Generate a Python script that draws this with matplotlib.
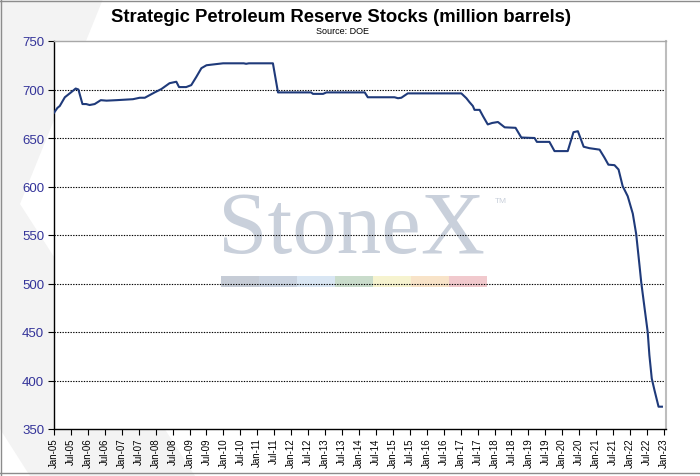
import matplotlib
matplotlib.use("Agg")
import matplotlib.pyplot as plt
from matplotlib.patches import Polygon, Rectangle
from matplotlib.lines import Line2D

# ---- data (decimal year, million barrels) ----
years = [2005.00, 2005.10, 2005.17, 2005.32, 2005.50, 2005.64, 2005.72, 2005.84, 2005.95,
         2006.05, 2006.20, 2006.38, 2006.55, 2006.84, 2007.33, 2007.53, 2007.68, 2007.97,
         2008.17, 2008.41, 2008.61, 2008.69, 2008.90, 2009.05, 2009.20, 2009.35, 2009.50,
         2009.74, 2009.99, 2010.60, 2010.67, 2010.75, 2011.46, 2011.61, 2012.59, 2012.64,
         2012.94, 2013.04, 2014.17, 2014.26, 2015.05, 2015.15, 2015.25, 2015.44, 2017.02,
         2017.17, 2017.26, 2017.36, 2017.41, 2017.56, 2017.66, 2017.80, 2017.93, 2018.10,
         2018.30, 2018.62, 2018.79, 2019.18, 2019.25, 2019.62, 2019.77, 2020.16, 2020.33,
         2020.46, 2020.63, 2020.80, 2021.10, 2021.24, 2021.36, 2021.54, 2021.66, 2021.78,
         2021.93, 2022.08, 2022.18, 2022.28, 2022.33, 2022.43, 2022.52, 2022.57, 2022.64,
         2022.72, 2022.84, 2022.94]
stocks = [676, 681, 683, 692, 697, 701, 700, 685, 685,
          684, 685, 689, 688.5, 689, 690, 691.5, 691.5, 697,
          700.5, 706.5, 708, 702.5, 702.5, 704.5, 713, 722, 725,
          726, 727, 727, 726.5, 727, 727, 697, 697, 695.5,
          695.5, 697, 697, 692, 692, 691, 691.5, 696, 696,
          691, 687, 683, 679, 679, 672.5, 664, 665.5, 666.5,
          661, 660.5, 650.5, 650, 646, 646, 636.5, 636.5, 656,
          657, 641, 639.5, 638, 630, 622.5, 622, 617.5, 600.5,
          590, 572, 551, 518, 501, 474, 450, 426, 402,
          390, 373, 373]

tick_pos = [2005 + 0.5 * i for i in range(37)]
tick_labels = []
for i in range(37):
    yr = 5 + i // 2
    tick_labels.append(("Jan-" if i % 2 == 0 else "Jul-") + f"{yr:02d}")
y_ticks = [350, 400, 450, 500, 550, 600, 650, 700, 750]

W, H = 700, 477
fig = plt.figure(figsize=(7.0, 4.77), dpi=100)
fig.patch.set_facecolor("white")

# faint chevron in background
pts = [(0, 0), (103, 0), (20, 205), (195, 477), (30, 477), (0, 430)]
fig.patches.append(Polygon([(x / W, 1 - y / H) for x, y in pts], closed=True,
                           transform=fig.transFigure, facecolor="#f3f3f3",
                           edgecolor="none", zorder=-5))

ax = fig.add_axes([54 / W, 1 - 430 / H, (666 - 54) / W, (430 - 42) / H])
ax.set_facecolor("white")

ax.plot(years, stocks, color="#1f3a7a", lw=1.5, zorder=3)

ax.set_xlim(2005.0, 2023.06)
ax.set_ylim(350, 750)
ax.set_yticks(y_ticks)
ax.set_yticklabels([str(v) for v in y_ticks], color="#333399", fontsize=9.5,
                   family=["Liberation Sans", "DejaVu Sans"])
ax.set_xticks(tick_pos)
ax.set_xticklabels(tick_labels, rotation=90, fontsize=7,
                   family=["Liberation Sans", "DejaVu Sans"])
ax.tick_params(axis="both", direction="out", length=4, width=0.8, color="black")
ax.tick_params(axis="x", pad=2)
ax.tick_params(axis="y", pad=3)

for v in [400, 450, 500, 550, 600, 650, 700]:
    ax.axhline(v, color="black", lw=0.8, ls=(0, (1.2, 1.2)), zorder=1.5)

ax.spines["left"].set_color("black")
ax.spines["bottom"].set_color("black")
ax.spines["left"].set_linewidth(1.0)
ax.spines["bottom"].set_linewidth(1.0)
ax.spines["top"].set_color("#a8a8a8")
ax.spines["right"].set_color("#bdbdbd")
ax.spines["top"].set_linewidth(1.0)
ax.spines["right"].set_linewidth(1.5)

# watermark
ax.text(351 / W, 1 - 253 / H, "StoneX", transform=fig.transFigure, ha="center",
        va="baseline", fontsize=64, color="#c9d0db",
        family=["Liberation Serif", "DejaVu Serif"], zorder=0.5)
ax.text(495 / W, 1 - 203 / H, "TM", transform=fig.transFigure, ha="left",
        va="baseline", fontsize=6, color="#c9d0db",
        family=["Liberation Sans", "DejaVu Sans"], zorder=0.5)
strip_cols = ["#c6ccd6", "#cad3e0", "#d9e6f3", "#c9dccb", "#f6f3cf", "#f8e3c8", "#f1c9cd"]
x0, seg = 221, 38
for i, c in enumerate(strip_cols):
    ax.add_patch(Rectangle(((x0 + i * seg) / W, 1 - 288 / H), seg / W, 11 / H,
                           transform=fig.transFigure, facecolor=c, edgecolor="none",
                           zorder=0.4, clip_on=False))

fig.text(341 / W, 1 - 17 / H, "Strategic Petroleum Reserve Stocks (million barrels)",
         ha="center", va="center", fontsize=13.3, fontweight="bold",
         family=["Liberation Sans", "DejaVu Sans"])
fig.text(343 / W, 1 - 32 / H, "Source: DOE", ha="center", va="center", fontsize=6.5,
         family=["Liberation Sans", "DejaVu Sans"])

# outer frame lines
for (xa, ya, xb, yb) in [(0, 2, W, 2), (1, 0, 1, H), (0, 474, W, 474)]:
    fig.add_artist(Line2D([xa / W, xb / W], [1 - ya / H, 1 - yb / H],
                          transform=fig.transFigure, color="#8c8c8c", lw=1.0))

fig.savefig("out.png", dpi=100)
